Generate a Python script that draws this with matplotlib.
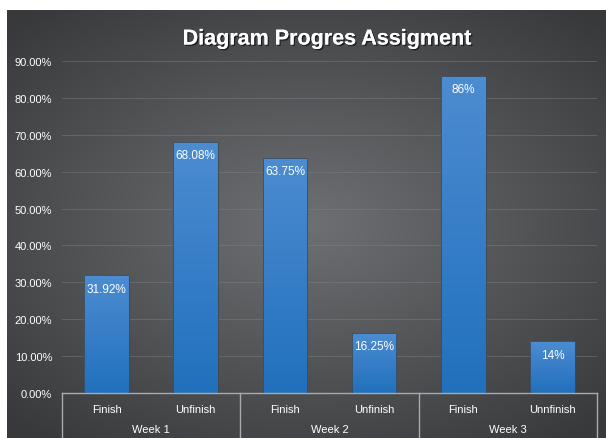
import numpy as np
import matplotlib.pyplot as plt
from matplotlib import patheffects as pe
from matplotlib import transforms as mtrans

plt.rcParams['font.family'] = ['Liberation Sans', 'DejaVu Sans']

# data
weeks = ['Week 1', 'Week 2', 'Week 3']
status = ['Finish', 'Unfinish', 'Finish', 'Unfinish', 'Finish', 'Unnfinish']
values = [31.92, 68.08, 63.75, 16.25, 86, 14]
value_labels = ['31.92%', '68.08%', '63.75%', '16.25%', '86%', '14%']
yticks = [0, 10, 20, 30, 40, 50, 60, 70, 80, 90]

W, H = 606, 439
fig = plt.figure(figsize=(W / 100, H / 100), dpi=100, facecolor='white')

# dark radial gradient background
bg = fig.add_axes([7 / W, 0, 599 / W, 428 / H])
bg.set_axis_off()
yy, xx = np.mgrid[-1:1:300j, -1:1:400j]
r = np.sqrt((xx * 0.95) ** 2 + (yy * 1.05) ** 2)
dark = np.array([0.22, 0.225, 0.235])
light = np.array([0.43, 0.44, 0.45])
t = np.clip(r / 1.35, 0, 1)[..., None]
img = light * (1 - t) + dark * t
bg.imshow(img, extent=[0, 1, 0, 1], aspect='auto', origin='lower')
bg.set_xlim(0, 1)
bg.set_ylim(0, 1)

# main plot
ax = fig.add_axes([62 / W, (H - 394) / H, 535 / W, 332 / H])
ax.patch.set_alpha(0)
x = np.arange(len(values))

for v in yticks[1:]:
    ax.axhline(v, color='#808386', lw=0.7, alpha=0.45, zorder=1)

bars = ax.bar(x, values, width=0.5, color='none', edgecolor='#3d4a55', lw=0.6, zorder=3)

# blue vertical gradient inside each bar
grad = np.linspace(0, 1, 256)[:, None]
top_c = np.array([0.30, 0.55, 0.82])
bot_c = np.array([0.13, 0.44, 0.74])
gimg = bot_c * (1 - grad[..., None]) + top_c * grad[..., None]
for b in bars:
    x0, w, h = b.get_x(), b.get_width(), b.get_height()
    im = ax.imshow(gimg, extent=[x0, x0 + w, 0, h], origin='lower',
                   aspect='auto', zorder=2)
    im.set_clip_path(b)
ax.set_aspect('auto')
ax.set_xlim(-0.5, len(values) - 0.5)
ax.set_ylim(0, 90)

for xi, v, lab in zip(x, values, value_labels):
    ax.text(xi, v - 2.0, lab, ha='center', va='top', color='white',
            fontsize=8.5, zorder=4)

for s in ax.spines.values():
    s.set_visible(False)
ax.set_xticks([])
ax.set_yticks(yticks)
ax.set_yticklabels(['%.2f%%' % v for v in yticks], color='white', fontsize=8)
ax.tick_params(axis='y', length=0, pad=7)

# multi-level category axis
trans = mtrans.blended_transform_factory(ax.transData, ax.transAxes)
lc = '#a8abae'
ax.plot([-0.5, 5.5], [0, 0], color=lc, lw=1, transform=trans, clip_on=False)
for xb in [-0.5, 1.5, 3.5, 5.5]:
    ax.plot([xb, xb], [0, -0.2], color=lc, lw=1, transform=trans, clip_on=False)
for xi, s in zip(x, status):
    ax.text(xi, -0.047, s, ha='center', va='center', color='white',
            fontsize=8, transform=trans)
for i, wk in enumerate(weeks):
    ax.text(2 * i + 0.5, -0.108, wk, ha='center', va='center', color='white',
            fontsize=8, transform=trans)

fig.text(327 / W, 1 - 40 / H, 'Diagram Progres Assigment', ha='center', va='center',
         color='white', fontsize=15.5, fontweight='bold',
         path_effects=[pe.withSimplePatchShadow(offset=(1, -1), shadow_rgbFace='black', alpha=0.6),
                       pe.Normal()])

fig.savefig('out.png', dpi=100, facecolor='white')
